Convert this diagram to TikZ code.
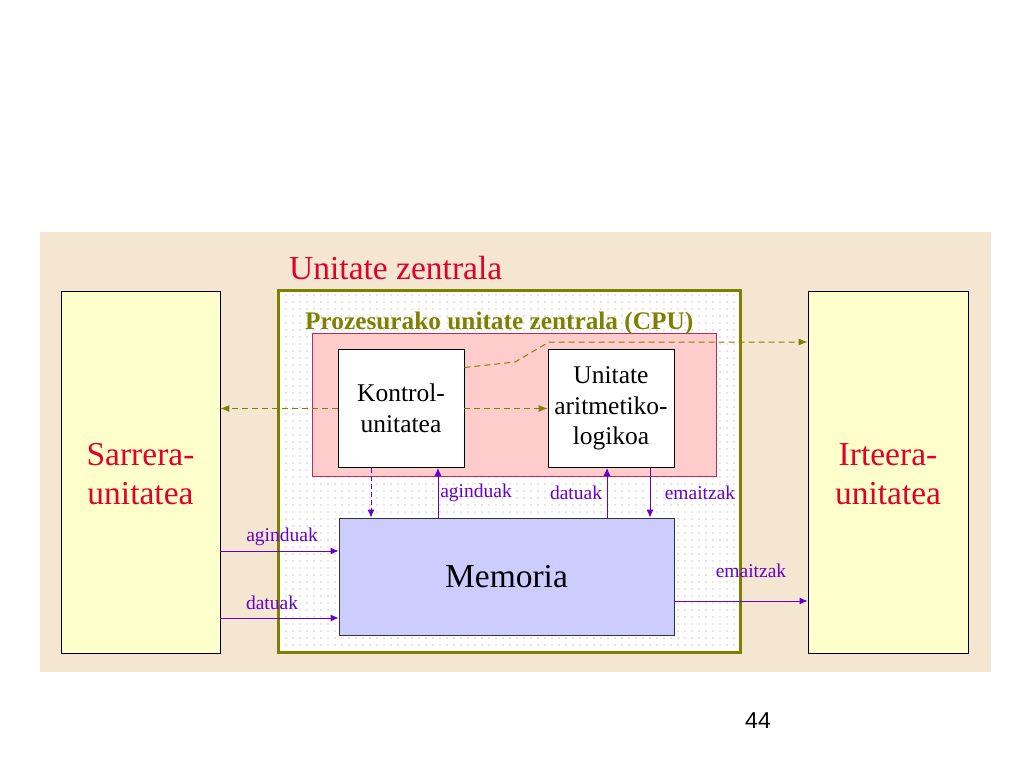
\documentclass[tikz,border=0pt]{standalone}
\usepackage{fontspec}
\setmainfont{Liberation Serif}
\newfontfamily\arialfont{Liberation Sans}
\usetikzlibrary{arrows.meta,patterns.meta,calc}
\definecolor{bgbeige}{RGB}{244,230,208}
\definecolor{lyellow}{RGB}{255,255,204}
\definecolor{olivec}{RGB}{128,128,0}
\definecolor{titred}{RGB}{225,0,40}
\definecolor{lpink}{RGB}{255,204,204}
\definecolor{pinkborder}{RGB}{190,40,90}
\definecolor{lavend}{RGB}{204,204,255}
\definecolor{purp}{RGB}{102,0,204}
\definecolor{dotgray}{RGB}{150,150,165}
\tikzset{
  unitbox/.style={draw=black, line width=0.8pt, fill=lyellow, minimum width=159pt, minimum height=362pt, inner sep=0pt},
  whitebox/.style={draw=black, line width=0.8pt, fill=white, minimum width=126pt, minimum height=118pt, inner sep=0pt, align=center, font=\fontsize{25.5}{30.5}\selectfont},
  bigtext/.style={text=titred, align=center, font=\fontsize{33.5}{39}\selectfont},
  lbl/.style={text=purp, inner sep=0pt, font=\fontsize{19.5}{22}\selectfont},
  parrow/.style={draw=purp, line width=1pt, -{Latex[length=8pt,width=7pt]}},
  pdash/.style={parrow, dash pattern=on 5pt off 3pt},
  oarrow/.style={draw=olivec, line width=1pt, dash pattern=on 6pt off 4pt, -{Latex[length=9pt,width=7pt]}},
}
\begin{document}
\begin{tikzpicture}[x=1pt,y=-1pt]
\useasboundingbox (0,0) rectangle (1024,768);
\fill[white] (0,0) rectangle (1024,768);
% beige background
\fill[bgbeige] (40,232) rectangle (991,672);
% side units
\node[unitbox] (sarrera) at (140.5,472) {};
\node[bigtext] (sarreratxt) at (140.5,474) {Sarrera-\\unitatea};
\node[unitbox, minimum width=160pt] (irteera) at (888,472) {};
\node[bigtext] (irteeratxt) at (888,474) {Irteera-\\unitatea};
% central unit
\node[draw=olivec, line width=3pt, fill=white, minimum width=462pt, minimum height=362pt, inner sep=0pt] (central) at (509,471) {};
\fill[pattern={Dots[distance=6.5pt, radius=0.6pt]}, pattern color=dotgray] (279.5,291.5) rectangle (738.5,650.5);
\node[anchor=base west, inner sep=0pt, text=titred, font=\fontsize{33.5}{39}\selectfont] (centraltitle) at (289,279) {Unitate zentrala};
% CPU
\node[draw=pinkborder, line width=0.8pt, fill=lpink, minimum width=404pt, minimum height=143pt, inner sep=0pt] (cpu) at (514,404.5) {};
\node[anchor=base west, inner sep=0pt, text=olivec, font=\bfseries\fontsize{25.3}{30}\selectfont] (cputitle) at (305,329) {Prozesurako unitate zentrala (CPU)};
\node[whitebox] (kontrol) at (401,408.5) {Kontrol-\\unitatea};
\node[whitebox] (alu) at (611,408.5) {Unitate\\aritmetiko-\\logikoa};
% memory
\node[draw=black!80, line width=0.8pt, fill=lavend, minimum width=335pt, minimum height=117pt, inner sep=0pt, font=\fontsize{33.5}{39}\selectfont] (mem) at (506.5,576.5) {Memoria};
% olive dashed connectors
\draw[oarrow] (kontrol.west) -- (kontrol.west -| sarrera.east);
\draw[oarrow] (kontrol.east) -- (alu.west);
\coordinate (b1) at (515,362);
\coordinate (b2) at (549,342);
\draw[oarrow] ([yshift=41pt]kontrol.east) -- (b1) -- (b2) -- (b2 -| irteera.west);
% purple connectors CPU <-> memory
\draw[pdash] ([xshift=-30pt]kontrol.south) -- ([xshift=-30pt]kontrol.south |- mem.north);
\draw[parrow] ([xshift=37pt]kontrol.south |- mem.north) -- ([xshift=37pt]kontrol.south);
\draw[parrow] ([xshift=-4pt]alu.south |- mem.north) -- ([xshift=-4pt]alu.south);
\draw[parrow] ([xshift=39pt]alu.south) -- ([xshift=39pt]alu.south |- mem.north);
\node[lbl] (l1) at (476,493) {aginduak};
\node[lbl] (l2) at (576,493) {datuak};
\node[lbl] (l3) at (700,493) {emaitzak};
% input / output connectors
\draw[parrow] ([yshift=25.5pt]mem.west -| sarrera.east) -- ([yshift=25.5pt]mem.west);
\draw[parrow] ([yshift=-41.5pt]mem.west -| sarrera.east) -- ([yshift=-41.5pt]mem.west);
\draw[parrow] ([yshift=-24.5pt]mem.east) -- ([yshift=-24.5pt]mem.east -| irteera.west);
\node[lbl] (l4) at (282,537) {aginduak};
\node[lbl] (l5) at (272,603) {datuak};
\node[lbl] (l6) at (751,571) {emaitzak};
% page number
\node[font=\arialfont\fontsize{23}{26}\selectfont] (pagenum) at (758,721) {44};
\end{tikzpicture}
\end{document}
